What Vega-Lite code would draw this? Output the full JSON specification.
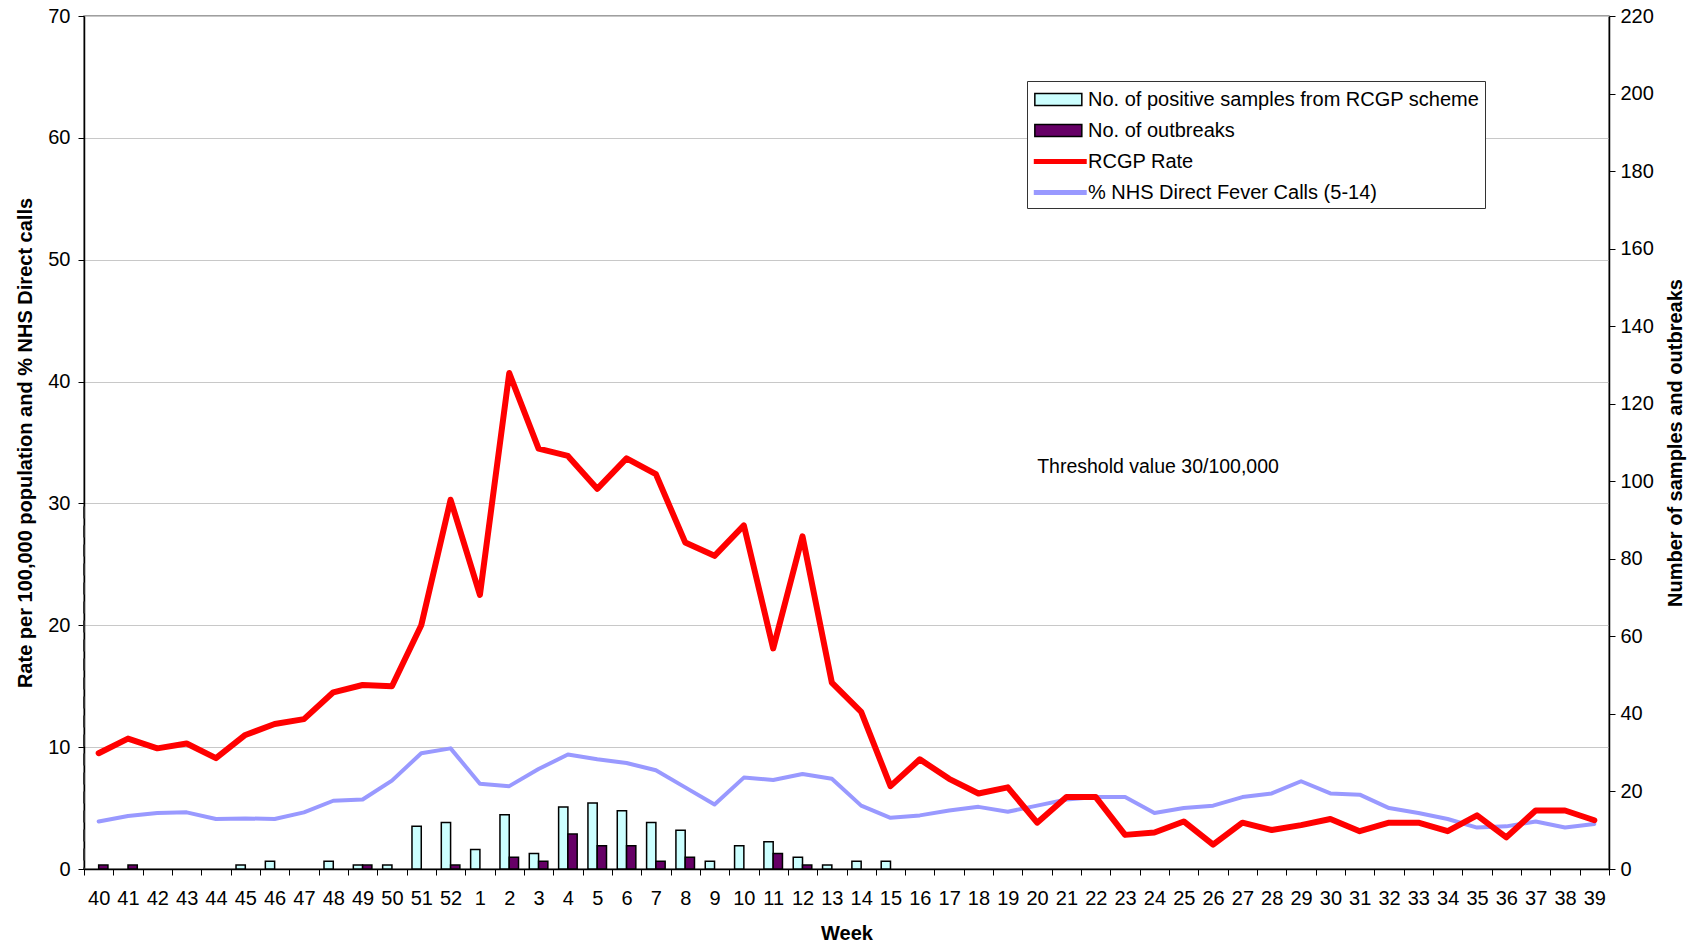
{
  "$schema": "https://vega.github.io/schema/vega-lite/v6.json",
  "width": 1525,
  "height": 853,
  "autosize": {"type": "none"},
  "padding": {"left": 84, "top": 16, "right": 88, "bottom": 76},
  "background": "white",
  "config": {
    "font": "Liberation Sans",
    "view": {"stroke": "#808080", "strokeWidth": 1.5},
    "axis": {
      "labelFont": "Liberation Sans",
      "titleFont": "Liberation Sans",
      "labelFontSize": 20,
      "titleFontSize": 20,
      "titleFontWeight": "bold",
      "labelColor": "black",
      "titleColor": "black",
      "domainColor": "black",
      "tickColor": "black",
      "tickSize": 6,
      "labelFlush": false,
      "labelOverlap": false
    },
    "legend": {
      "labelFont": "Liberation Sans",
      "labelFontSize": 20,
      "labelColor": "black",
      "labelLimit": 600,
      "symbolSize": 645,
      "labelOffset": 29,
      "padding": 5
    }
  },
  "datasets": {
    "threshold": [{"label": "Threshold value 30/100,000", "value": 29.75}],
    "bars": [
      {"week": "40", "series": "No. of outbreaks", "count": 1},
      {"week": "41", "series": "No. of outbreaks", "count": 1},
      {"week": "45", "series": "No. of positive samples from RCGP scheme", "count": 1},
      {"week": "46", "series": "No. of positive samples from RCGP scheme", "count": 2},
      {"week": "48", "series": "No. of positive samples from RCGP scheme", "count": 2},
      {"week": "49", "series": "No. of positive samples from RCGP scheme", "count": 1},
      {"week": "49", "series": "No. of outbreaks", "count": 1},
      {"week": "50", "series": "No. of positive samples from RCGP scheme", "count": 1},
      {"week": "51", "series": "No. of positive samples from RCGP scheme", "count": 11},
      {"week": "52", "series": "No. of positive samples from RCGP scheme", "count": 12},
      {"week": "52", "series": "No. of outbreaks", "count": 1},
      {"week": "1", "series": "No. of positive samples from RCGP scheme", "count": 5},
      {"week": "2", "series": "No. of positive samples from RCGP scheme", "count": 14},
      {"week": "2", "series": "No. of outbreaks", "count": 3},
      {"week": "3", "series": "No. of positive samples from RCGP scheme", "count": 4},
      {"week": "3", "series": "No. of outbreaks", "count": 2},
      {"week": "4", "series": "No. of positive samples from RCGP scheme", "count": 16},
      {"week": "4", "series": "No. of outbreaks", "count": 9},
      {"week": "5", "series": "No. of positive samples from RCGP scheme", "count": 17},
      {"week": "5", "series": "No. of outbreaks", "count": 6},
      {"week": "6", "series": "No. of positive samples from RCGP scheme", "count": 15},
      {"week": "6", "series": "No. of outbreaks", "count": 6},
      {"week": "7", "series": "No. of positive samples from RCGP scheme", "count": 12},
      {"week": "7", "series": "No. of outbreaks", "count": 2},
      {"week": "8", "series": "No. of positive samples from RCGP scheme", "count": 10},
      {"week": "8", "series": "No. of outbreaks", "count": 3},
      {"week": "9", "series": "No. of positive samples from RCGP scheme", "count": 2},
      {"week": "10", "series": "No. of positive samples from RCGP scheme", "count": 6},
      {"week": "11", "series": "No. of positive samples from RCGP scheme", "count": 7},
      {"week": "11", "series": "No. of outbreaks", "count": 4},
      {"week": "12", "series": "No. of positive samples from RCGP scheme", "count": 3},
      {"week": "12", "series": "No. of outbreaks", "count": 1},
      {"week": "13", "series": "No. of positive samples from RCGP scheme", "count": 1},
      {"week": "14", "series": "No. of positive samples from RCGP scheme", "count": 2},
      {"week": "15", "series": "No. of positive samples from RCGP scheme", "count": 2}
    ],
    "lines": [
      {"week": "40", "series": "RCGP Rate", "value": 9.5},
      {"week": "41", "series": "RCGP Rate", "value": 10.7},
      {"week": "42", "series": "RCGP Rate", "value": 9.9},
      {"week": "43", "series": "RCGP Rate", "value": 10.3},
      {"week": "44", "series": "RCGP Rate", "value": 9.1},
      {"week": "45", "series": "RCGP Rate", "value": 11.0},
      {"week": "46", "series": "RCGP Rate", "value": 11.9},
      {"week": "47", "series": "RCGP Rate", "value": 12.3},
      {"week": "48", "series": "RCGP Rate", "value": 14.5},
      {"week": "49", "series": "RCGP Rate", "value": 15.1},
      {"week": "50", "series": "RCGP Rate", "value": 15.0},
      {"week": "51", "series": "RCGP Rate", "value": 20.0},
      {"week": "52", "series": "RCGP Rate", "value": 30.3},
      {"week": "1", "series": "RCGP Rate", "value": 22.5},
      {"week": "2", "series": "RCGP Rate", "value": 40.7},
      {"week": "3", "series": "RCGP Rate", "value": 34.5},
      {"week": "4", "series": "RCGP Rate", "value": 33.9},
      {"week": "5", "series": "RCGP Rate", "value": 31.2},
      {"week": "6", "series": "RCGP Rate", "value": 33.7},
      {"week": "7", "series": "RCGP Rate", "value": 32.4},
      {"week": "8", "series": "RCGP Rate", "value": 26.8},
      {"week": "9", "series": "RCGP Rate", "value": 25.7},
      {"week": "10", "series": "RCGP Rate", "value": 28.2},
      {"week": "11", "series": "RCGP Rate", "value": 18.1},
      {"week": "12", "series": "RCGP Rate", "value": 27.3},
      {"week": "13", "series": "RCGP Rate", "value": 15.3},
      {"week": "14", "series": "RCGP Rate", "value": 12.9},
      {"week": "15", "series": "RCGP Rate", "value": 6.8},
      {"week": "16", "series": "RCGP Rate", "value": 9.0},
      {"week": "17", "series": "RCGP Rate", "value": 7.4},
      {"week": "18", "series": "RCGP Rate", "value": 6.2},
      {"week": "19", "series": "RCGP Rate", "value": 6.7},
      {"week": "20", "series": "RCGP Rate", "value": 3.8},
      {"week": "21", "series": "RCGP Rate", "value": 5.9},
      {"week": "22", "series": "RCGP Rate", "value": 5.9},
      {"week": "23", "series": "RCGP Rate", "value": 2.8},
      {"week": "24", "series": "RCGP Rate", "value": 3.0},
      {"week": "25", "series": "RCGP Rate", "value": 3.9},
      {"week": "26", "series": "RCGP Rate", "value": 2.0},
      {"week": "27", "series": "RCGP Rate", "value": 3.8},
      {"week": "28", "series": "RCGP Rate", "value": 3.2},
      {"week": "29", "series": "RCGP Rate", "value": 3.6},
      {"week": "30", "series": "RCGP Rate", "value": 4.1},
      {"week": "31", "series": "RCGP Rate", "value": 3.1},
      {"week": "32", "series": "RCGP Rate", "value": 3.8},
      {"week": "33", "series": "RCGP Rate", "value": 3.8},
      {"week": "34", "series": "RCGP Rate", "value": 3.1},
      {"week": "35", "series": "RCGP Rate", "value": 4.4},
      {"week": "36", "series": "RCGP Rate", "value": 2.6},
      {"week": "37", "series": "RCGP Rate", "value": 4.8},
      {"week": "38", "series": "RCGP Rate", "value": 4.8},
      {"week": "39", "series": "RCGP Rate", "value": 4.0},
      {"week": "40", "series": "% NHS Direct Fever Calls (5-14)", "value": 3.9},
      {"week": "41", "series": "% NHS Direct Fever Calls (5-14)", "value": 4.35},
      {"week": "42", "series": "% NHS Direct Fever Calls (5-14)", "value": 4.6},
      {"week": "43", "series": "% NHS Direct Fever Calls (5-14)", "value": 4.65},
      {"week": "44", "series": "% NHS Direct Fever Calls (5-14)", "value": 4.1},
      {"week": "45", "series": "% NHS Direct Fever Calls (5-14)", "value": 4.15},
      {"week": "46", "series": "% NHS Direct Fever Calls (5-14)", "value": 4.1},
      {"week": "47", "series": "% NHS Direct Fever Calls (5-14)", "value": 4.65},
      {"week": "48", "series": "% NHS Direct Fever Calls (5-14)", "value": 5.6},
      {"week": "49", "series": "% NHS Direct Fever Calls (5-14)", "value": 5.7},
      {"week": "50", "series": "% NHS Direct Fever Calls (5-14)", "value": 7.25},
      {"week": "51", "series": "% NHS Direct Fever Calls (5-14)", "value": 9.5},
      {"week": "52", "series": "% NHS Direct Fever Calls (5-14)", "value": 9.9},
      {"week": "1", "series": "% NHS Direct Fever Calls (5-14)", "value": 7.0},
      {"week": "2", "series": "% NHS Direct Fever Calls (5-14)", "value": 6.8},
      {"week": "3", "series": "% NHS Direct Fever Calls (5-14)", "value": 8.2},
      {"week": "4", "series": "% NHS Direct Fever Calls (5-14)", "value": 9.4},
      {"week": "5", "series": "% NHS Direct Fever Calls (5-14)", "value": 9.0},
      {"week": "6", "series": "% NHS Direct Fever Calls (5-14)", "value": 8.7},
      {"week": "7", "series": "% NHS Direct Fever Calls (5-14)", "value": 8.1},
      {"week": "8", "series": "% NHS Direct Fever Calls (5-14)", "value": 6.7},
      {"week": "9", "series": "% NHS Direct Fever Calls (5-14)", "value": 5.3},
      {"week": "10", "series": "% NHS Direct Fever Calls (5-14)", "value": 7.5},
      {"week": "11", "series": "% NHS Direct Fever Calls (5-14)", "value": 7.3},
      {"week": "12", "series": "% NHS Direct Fever Calls (5-14)", "value": 7.8},
      {"week": "13", "series": "% NHS Direct Fever Calls (5-14)", "value": 7.4},
      {"week": "14", "series": "% NHS Direct Fever Calls (5-14)", "value": 5.2},
      {"week": "15", "series": "% NHS Direct Fever Calls (5-14)", "value": 4.2},
      {"week": "16", "series": "% NHS Direct Fever Calls (5-14)", "value": 4.4},
      {"week": "17", "series": "% NHS Direct Fever Calls (5-14)", "value": 4.8},
      {"week": "18", "series": "% NHS Direct Fever Calls (5-14)", "value": 5.1},
      {"week": "19", "series": "% NHS Direct Fever Calls (5-14)", "value": 4.7},
      {"week": "20", "series": "% NHS Direct Fever Calls (5-14)", "value": 5.2},
      {"week": "21", "series": "% NHS Direct Fever Calls (5-14)", "value": 5.7},
      {"week": "22", "series": "% NHS Direct Fever Calls (5-14)", "value": 5.9},
      {"week": "23", "series": "% NHS Direct Fever Calls (5-14)", "value": 5.9},
      {"week": "24", "series": "% NHS Direct Fever Calls (5-14)", "value": 4.6},
      {"week": "25", "series": "% NHS Direct Fever Calls (5-14)", "value": 5.0},
      {"week": "26", "series": "% NHS Direct Fever Calls (5-14)", "value": 5.2},
      {"week": "27", "series": "% NHS Direct Fever Calls (5-14)", "value": 5.9},
      {"week": "28", "series": "% NHS Direct Fever Calls (5-14)", "value": 6.2},
      {"week": "29", "series": "% NHS Direct Fever Calls (5-14)", "value": 7.2},
      {"week": "30", "series": "% NHS Direct Fever Calls (5-14)", "value": 6.2},
      {"week": "31", "series": "% NHS Direct Fever Calls (5-14)", "value": 6.1},
      {"week": "32", "series": "% NHS Direct Fever Calls (5-14)", "value": 5.0},
      {"week": "33", "series": "% NHS Direct Fever Calls (5-14)", "value": 4.6},
      {"week": "34", "series": "% NHS Direct Fever Calls (5-14)", "value": 4.1},
      {"week": "35", "series": "% NHS Direct Fever Calls (5-14)", "value": 3.4},
      {"week": "36", "series": "% NHS Direct Fever Calls (5-14)", "value": 3.5},
      {"week": "37", "series": "% NHS Direct Fever Calls (5-14)", "value": 3.9},
      {"week": "38", "series": "% NHS Direct Fever Calls (5-14)", "value": 3.4},
      {"week": "39", "series": "% NHS Direct Fever Calls (5-14)", "value": 3.7}
    ]
  },
  "encoding": {
    "x": {
      "field": "week",
      "type": "ordinal",
      "title": "Week",
      "scale": {
        "domain": ["40","41","42","43","44","45","46","47","48","49","50","51","52","1","2","3","4","5","6","7","8","9","10","11","12","13","14","15","16","17","18","19","20","21","22","23","24","25","26","27","28","29","30","31","32","33","34","35","36","37","38","39"],
        "paddingInner": 0,
        "paddingOuter": 0
      },
      "axis": {"labelAngle": 0, "tickBand": "extent", "labelPadding": 13, "titlePadding": 15, "grid": false, "domainWidth": 1.5}
    }
  },
  "layer": [
    {
      "data": {"name": "bars"},
      "mark": {"type": "bar", "strokeWidth": 1.5},
      "encoding": {
        "xOffset": {
          "field": "series",
          "scale": {"domain": ["No. of positive samples from RCGP scheme", "No. of outbreaks"], "paddingInner": 0, "paddingOuter": 0.58}
        },
        "y": {
          "field": "count",
          "type": "quantitative",
          "scale": {"domain": [0, 220], "nice": false},
          "axis": {"orient": "right", "title": "Number of samples and outbreaks", "titleAngle": -90, "values": [0,20,40,60,80,100,120,140,160,180,200,220], "grid": false, "labelPadding": 5, "titlePadding": 32, "domainWidth": 1.5}
        },
        "fill": {
          "field": "series",
          "type": "nominal",
          "scale": {
            "domain": ["No. of positive samples from RCGP scheme", "No. of outbreaks", "RCGP Rate", "% NHS Direct Fever Calls (5-14)"],
            "range": ["#CCFFFF", "#660066", "transparent", "transparent"]
          },
          "legend": {
            "title": null, "orient": "none", "legendX": 943, "legendY": 65, "direction": "vertical",
            "strokeColor": "#333333", "fillColor": "white", "rowPadding": 7,
            "symbolType": "M-0.84,-0.47H2.86V0.47H-0.84Z", "symbolStrokeWidth": 1.5
          }
        },
        "stroke": {
          "field": "series",
          "type": "nominal",
          "scale": {
            "domain": ["No. of positive samples from RCGP scheme", "No. of outbreaks", "RCGP Rate", "% NHS Direct Fever Calls (5-14)"],
            "range": ["black", "black", "transparent", "transparent"]
          },
          "legend": {
            "title": null, "orient": "none", "legendX": 943, "legendY": 65, "direction": "vertical",
            "strokeColor": "#333333", "fillColor": "white", "rowPadding": 7,
            "symbolType": "M-0.84,-0.47H2.86V0.47H-0.84Z", "symbolStrokeWidth": 1.5
          }
        }
      }
    },
    {
      "layer": [
        {
          "data": {"name": "threshold"},
          "mark": {"type": "rule", "stroke": "#333333", "strokeWidth": 2, "strokeDash": [12, 7]},
          "encoding": {"y": {"field": "value", "type": "quantitative"}}
        },
        {
          "data": {"name": "lines"},
          "transform": [{"filter": "datum.series === '% NHS Direct Fever Calls (5-14)'"}],
          "mark": {"type": "line", "strokeCap": "round", "strokeJoin": "round", "strokeWidth": 4},
          "encoding": {
            "y": {"field": "value", "type": "quantitative"},
            "color": {"field": "series", "type": "nominal"}
          }
        },
        {
          "data": {"name": "lines"},
          "transform": [{"filter": "datum.series === 'RCGP Rate'"}],
          "mark": {"type": "line", "strokeCap": "round", "strokeJoin": "round", "strokeWidth": 6},
          "encoding": {
            "y": {"field": "value", "type": "quantitative"},
            "color": {
              "field": "series",
              "type": "nominal",
              "scale": {
                "domain": ["No. of positive samples from RCGP scheme ", "No. of outbreaks ", "RCGP Rate", "% NHS Direct Fever Calls (5-14)"],
                "range": ["transparent", "transparent", "#FF0000", "#9999FF"]
              },
              "legend": {
                "title": null, "orient": "none", "legendX": 943, "legendY": 63, "direction": "vertical", "rowPadding": 5,
                "symbolType": "M-1.08,0H3.09", "symbolStrokeWidth": 5, "labelOpacity": 0, "labelExpr": "' '"
              }
            }
          }
        },
        {
          "data": {"name": "threshold"},
          "mark": {"type": "text", "align": "left", "baseline": "middle", "fontSize": 19.5, "font": "Liberation Sans", "color": "black"},
          "encoding": {
            "x": {"datum": "20"},
            "y": {"datum": 33.0, "type": "quantitative"},
            "text": {"field": "label"}
          }
        }
      ],
      "encoding": {
        "y": {
          "type": "quantitative",
          "scale": {"domain": [0, 70], "nice": false},
          "axis": {"orient": "left", "title": "Rate per 100,000 population and % NHS Direct calls", "values": [0,10,20,30,40,50,60,70], "grid": true, "gridColor": "#c8c8c8", "gridWidth": 1, "labelPadding": 8, "titlePadding": 12, "domainWidth": 1.5}
        }
      }
    }
  ],
  "resolve": {"scale": {"y": "independent"}}
}
